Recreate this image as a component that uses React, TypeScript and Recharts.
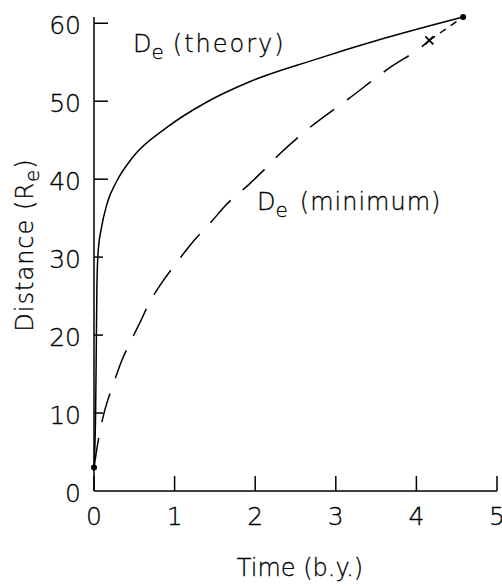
import {
  ComposedChart,
  Line,
  Scatter,
  XAxis,
  YAxis,
  Customized,
} from "recharts";

// time (b.y.) vs distance (Earth radii)
const theory = [
  { x: 0, y: 3 },
  { x: 0.02, y: 10 },
  { x: 0.03, y: 20 },
  { x: 0.036, y: 26 },
  { x: 0.05, y: 30.5 },
  { x: 0.095, y: 33.9 },
  { x: 0.16, y: 36.8 },
  { x: 0.28, y: 39.7 },
  { x: 0.48, y: 42.8 },
  { x: 0.9, y: 46.6 },
  { x: 1.4, y: 49.9 },
  { x: 1.93, y: 52.5 },
  { x: 2.76, y: 55.4 },
  { x: 3.58, y: 58 },
  { x: 4.58, y: 60.8 },
];

const minimum = [
  { x: 0, y: 3 },
  { x: 0.074, y: 7.7 },
  { x: 0.14, y: 10.6 },
  { x: 0.24, y: 13.7 },
  { x: 0.34, y: 16.6 },
  { x: 0.47, y: 19.5 },
  { x: 0.57, y: 21.6 },
  { x: 0.69, y: 24.2 },
  { x: 0.84, y: 26.7 },
  { x: 1.04, y: 29.5 },
  { x: 1.19, y: 31.5 },
  { x: 1.47, y: 34.7 },
  { x: 1.62, y: 36.5 },
  { x: 1.93, y: 39.4 },
  { x: 2.12, y: 41.3 },
  { x: 2.3, y: 43.2 },
  { x: 2.64, y: 46.3 },
  { x: 3.17, y: 50.4 },
  { x: 3.67, y: 54.3 },
  { x: 4.08, y: 57.1 },
  { x: 4.16, y: 57.8 },
];

const extension = [
  { x: 4.16, y: 57.8 },
  { x: 4.58, y: 60.8 },
];

const endDots = [
  { x: 0, y: 3 },
  { x: 4.58, y: 60.8 },
];
const crossMark = [{ x: 4.16, y: 57.8 }];

const xTicks = [0, 1, 2, 3, 4, 5];
const yTicks = [0, 10, 20, 30, 40, 50, 60];

const FONT = "'DejaVu Sans', sans-serif";
const INK = "#000";

function XTick({ x, y, payload }: any) {
  return (
    <g>
      <line x1={x} x2={x} y1={y} y2={y - 15} stroke={INK} strokeWidth={1.5} />
      <text
        x={x}
        y={y + 25}
        textAnchor="middle"
        dominantBaseline="central"
        fontFamily={FONT}
        fontWeight={200}
        fontSize={25}
        fill={INK}
        stroke={INK}
        strokeWidth={0.3}
      >
        {payload.value}
      </text>
    </g>
  );
}

function YTick({ x, y, payload }: any) {
  const len = payload.value >= 40 ? 14 : 9;
  return (
    <g>
      {payload.value > 0 && (
        <line x1={x} x2={x + len} y1={y} y2={y} stroke={INK} strokeWidth={1.5} />
      )}
      <text
        x={x - 13}
        y={y + 2}
        textAnchor="end"
        dominantBaseline="central"
        fontFamily={FONT}
        fontWeight={200}
        fontSize={25}
        fill={INK}
        stroke={INK}
        strokeWidth={0.3}
      >
        {payload.value}
      </text>
    </g>
  );
}

function Labels() {
  return (
    <g fontFamily={FONT} fontWeight={200} fill={INK} stroke={INK} strokeWidth={0.3}>
      <text x={133} y={52} fontSize={24}>
        D
        <tspan dy={7} fontSize={20}>e</tspan>
        <tspan dy={-7} dx={9} letterSpacing={2}>(theory)</tspan>
      </text>
      <text x={257} y={210} fontSize={24}>
        D
        <tspan dy={7} fontSize={20}>e</tspan>
        <tspan dy={-7} dx={12} letterSpacing={1}>(minimum)</tspan>
      </text>
      <text x={300} y={576} fontSize={24} textAnchor="middle">
        Time (b.y.)
      </text>
      <text
        transform="rotate(-90)"
        x={-245}
        y={33}
        fontSize={24}
        textAnchor="middle"
        letterSpacing={1}
      >
        Distance (R<tspan dy={6} fontSize={20}>e</tspan>
        <tspan dy={-6}>)</tspan>
      </text>
    </g>
  );
}

const Dot = ({ cx, cy }: any) => <circle cx={cx} cy={cy} r={3} fill={INK} />;
const Cross = ({ cx, cy }: any) => (
  <g stroke={INK} strokeWidth={1.8}>
    <line x1={cx - 4} y1={cy - 4} x2={cx + 4} y2={cy + 4} />
    <line x1={cx - 4} y1={cy + 4} x2={cx + 4} y2={cy - 4} />
  </g>
);

export default function App() {
  return (
    <div style={{ position: "absolute", left: 0, top: 0, background: "#fff" }}>
      <ComposedChart
        width={502}
        height={586}
        margin={{ top: 17, right: 5, bottom: 0, left: 1 }}
      >
        <XAxis
          dataKey="x"
          type="number"
          domain={[0, 5]}
          ticks={xTicks}
          interval={0}
          height={95}
          tickSize={0}
          tickMargin={0}
          tickLine={false}
          axisLine={{ stroke: INK, strokeWidth: 1.5 }}
          tick={<XTick />}
        />
        <YAxis
          dataKey="y"
          type="number"
          domain={[0, 60]}
          ticks={yTicks}
          interval={0}
          width={93}
          tickSize={0}
          tickMargin={0}
          tickLine={false}
          axisLine={{ stroke: INK, strokeWidth: 1.5 }}
          tick={<YTick />}
        />
        <Line
          data={theory}
          dataKey="y"
          type="monotone"
          stroke={INK}
          strokeWidth={1.5}
          dot={false}
          isAnimationActive={false}
        />
        <Line
          data={minimum}
          dataKey="y"
          type="monotone"
          stroke={INK}
          strokeWidth={1.5}
          strokeDasharray="30 16"
          dot={false}
          isAnimationActive={false}
        />
        <Line
          data={extension}
          dataKey="y"
          type="linear"
          stroke={INK}
          strokeWidth={1.5}
          strokeDasharray="7 6"
          dot={false}
          isAnimationActive={false}
        />
        <Scatter data={endDots} dataKey="y" shape={<Dot />} isAnimationActive={false} />
        <Scatter data={crossMark} dataKey="y" shape={<Cross />} isAnimationActive={false} />
        <Customized component={<Labels />} />
      </ComposedChart>
    </div>
  );
}
